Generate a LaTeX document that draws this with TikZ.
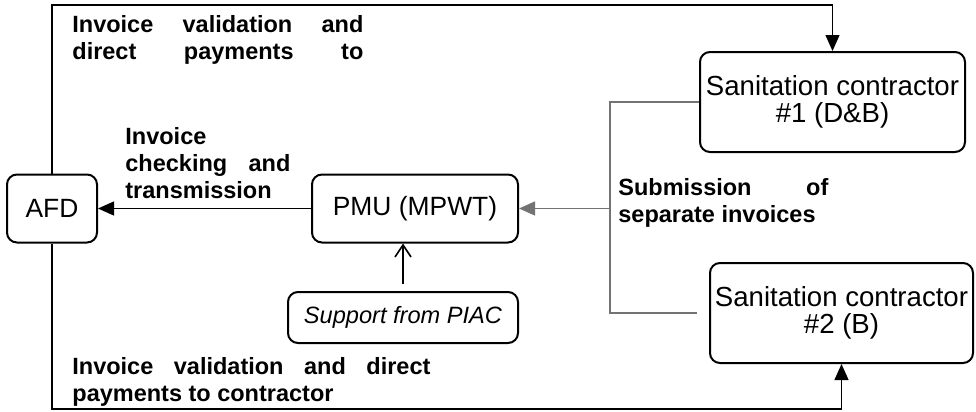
\documentclass[tikz,border=0pt]{standalone}
\usepackage{fontspec}
\setmainfont{Liberation Sans}
\tikzset{box/.style = {draw, line width = 1pt, rounded corners = 5pt, inner sep = 0, align = center, font = \fontsize{13.2}{13.8}\selectfont}}
\tikzset{lbl/.style = {anchor = north west, inner sep = 0, align = justify, font = \fontsize{11.75}{13.5}\selectfont\bfseries}}
\tikzset{tri/.style = {line width = 0.6pt, -{Triangle[length = 8pt, width = 7pt]}}}
\tikzset{barb/.style = {line width = 0.8pt, -{Straight Barb[length = 6pt, width = 8pt]}}}
\tikzset{feed/.style = {draw = black!55, line width = 0.6pt}}
\usetikzlibrary{arrows.meta}

\begin{document}
\begin{tikzpicture}[x = 0.5pt, y = -0.5pt]
    \useasboundingbox (0, 0) rectangle (976, 412);
    \node [box, minimum width = 45pt, minimum height = 34pt] (afd) at (52, 208.5) {AFD};
    \node [box, minimum width = 103pt, minimum height = 34pt] (pmu) at (415, 208.5) {PMU (MPWT)};
    \node [box, minimum width = 115pt, minimum height = 25.5pt, font = \fontsize{11.8}{13}\selectfont\itshape] (piac) at (403, 317.5) {Support from PIAC};
    \node [box, minimum width = 132.5pt, minimum height = 50pt, font = \fontsize{13.8}{13.8}\selectfont] (con1) at (832.5, 102) {Sanitation contractor\\ \#1 (D\&B)};
    \node [box, minimum width = 131.5pt, minimum height = 50pt, font = \fontsize{13.8}{13.8}\selectfont] (con2) at (841.5, 313) {Sanitation contractor\\ \#2 (B)};
    \coordinate (topleft) at (52, 5);
    \coordinate (botleft) at (52, 409);
    \coordinate (junc) at (610, 208.5);
    \draw [tri] (afd) -- (topleft) -| (con1);
    \draw [tri] (afd) -- (botleft) -| (con2);
    \draw [tri] (pmu) -- (afd);
    \draw [barb, shorten <= 3.5pt] (piac.north) -- (piac.north |- pmu.south);
    \draw [feed] (con1) -| (junc);
    \draw [feed, shorten >= 6pt] (junc) |- (con2);
    \draw [feed, tri, draw = black!55, fill = black!55] (junc) -- (pmu);
    \node [lbl, text width = 145.5pt] (toplbl) at (72, 15) {Invoice\hfill validation\hfill and\\ direct\hfill payments\hfill to};
    \node [lbl, text width = 82.5pt] (chklbl) at (125, 127) {Invoice\\ checking\hfill and\\ transmission};
    \node [lbl, text width = 105pt] (sublbl) at (618, 178) {Submission\hfill of\\ separate invoices};
    \node [lbl, text width = 179pt] (botlbl) at (72, 357) {Invoice\hfill validation\hfill and\hfill direct\\ payments to contractor};
\end{tikzpicture}
\end{document}
